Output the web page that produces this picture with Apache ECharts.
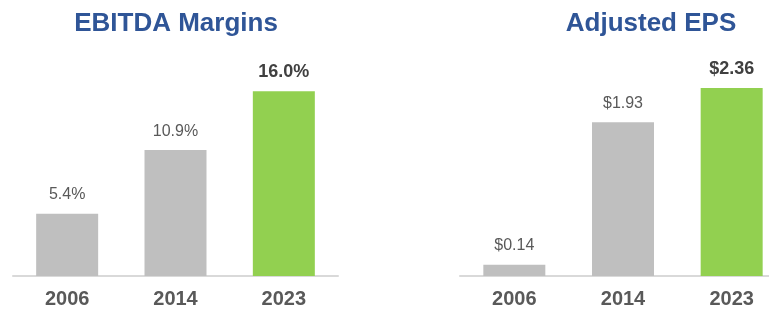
<!DOCTYPE html>
<html>
<head>
<meta charset="utf-8">
<script src="https://cdn.jsdelivr.net/npm/echarts@6/dist/echarts.min.js"></script>
<style>
html,body{margin:0;padding:0;background:#fff;overflow:hidden;width:769px;height:310px;}
#c{width:800px;height:310px;}
</style>
</head>
<body>
<div id="c"></div>
<script>
var categories = ['2006', '2014', '2023'];
var ebitdaMargins = [5.4, 10.9, 16.0];
var adjustedEps = [0.14, 1.93, 2.36];
var titles = ['EBITDA Margins', 'Adjusted EPS'];
var highlightIndex = 2;

var FONT = '"Liberation Sans", Arial, sans-serif';
var GRAY = '#BFBFBF', GREEN = '#92D050';

function buildData(values) {
  return values.map(function (v, i) {
    var hi = i === highlightIndex;
    return {
      value: v,
      itemStyle: { color: hi ? GREEN : GRAY },
      label: hi ? { fontWeight: 'bold', fontSize: 18, color: '#404040', distance: 10 } : {}
    };
  });
}

var chart = echarts.init(document.getElementById('c'), null, { renderer: 'canvas' });

function xAxis(gi) {
  return {
    type: 'category', gridIndex: gi, data: categories,
    axisLine: { lineStyle: { color: '#D9D9D9', width: 2 } },
    axisTick: { show: false },
    axisLabel: { color: '#595959', fontSize: 20, fontWeight: 'bold', fontFamily: FONT, margin: 13 }
  };
}
function yAxis(gi, max) {
  return { type: 'value', gridIndex: gi, min: 0, max: max, show: false, splitLine: { show: false } };
}
var labelBase = { show: true, position: 'top', distance: 11, fontSize: 16, color: '#595959', fontFamily: FONT };

chart.setOption({
  animation: false,
  title: [
    { text: titles[0], left: 171, top: 6, textAlign: 'center',
      textStyle: { color: '#2F5597', fontSize: 26, fontWeight: 'bold', fontFamily: FONT } },
    { text: titles[1], left: 646, top: 6, textAlign: 'center',
      textStyle: { color: '#2F5597', fontSize: 26, fontWeight: 'bold', fontFamily: FONT } }
  ],
  grid: [
    { left: 13, width: 325, top: 45, height: 231 },
    { left: 460, width: 326, top: 37, height: 239 }
  ],
  xAxis: [xAxis(0), xAxis(1)],
  yAxis: [yAxis(0, 20), yAxis(1, 3)],
  series: [
    { type: 'bar', xAxisIndex: 0, yAxisIndex: 0, barWidth: 62, data: buildData(ebitdaMargins),
      label: Object.assign({}, labelBase, { formatter: function (p) { return p.value.toFixed(1) + '%'; } }) },
    { type: 'bar', xAxisIndex: 1, yAxisIndex: 1, barWidth: 62, data: buildData(adjustedEps),
      label: Object.assign({}, labelBase, { formatter: function (p) { return '$' + p.value.toFixed(2); } }) }
  ]
});
</script>
</body>
</html>
